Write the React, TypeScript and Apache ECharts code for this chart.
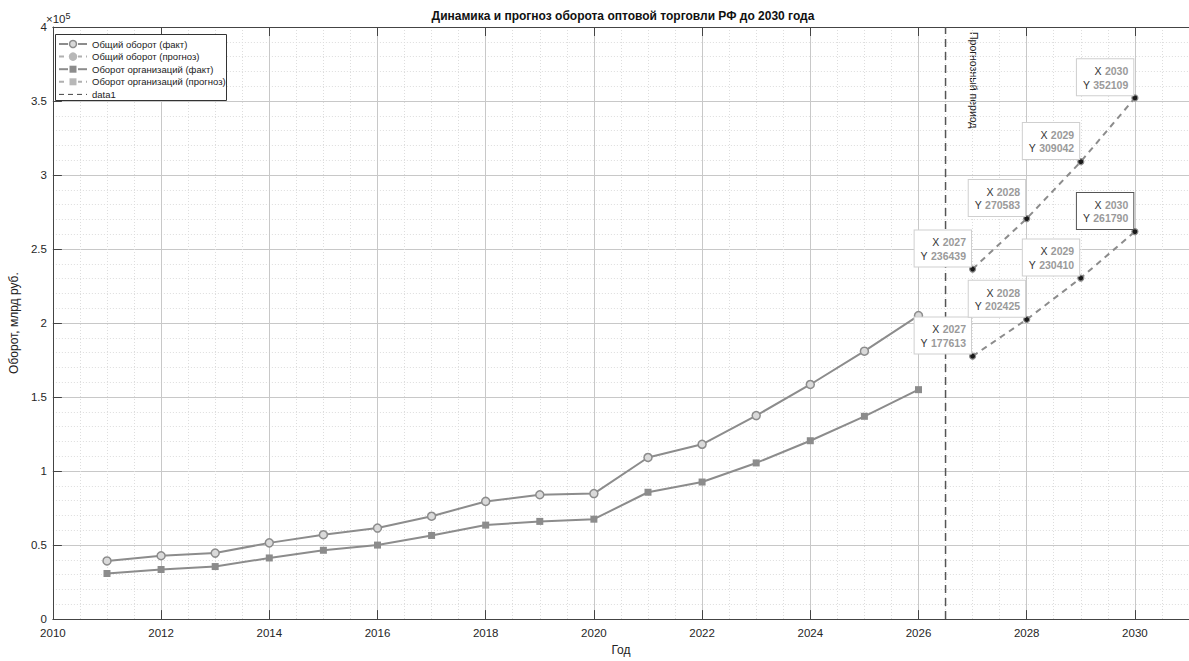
import React, { useEffect, useRef } from "react";
import * as echarts from "echarts";

const factYears = [2011, 2012, 2013, 2014, 2015, 2016, 2017, 2018, 2019, 2020, 2021, 2022, 2023, 2024, 2025, 2026];
const totalFact = [39300, 42800, 44600, 51500, 57000, 61500, 69500, 79500, 84000, 84800, 109200, 118100, 137500, 158500, 181000, 205000];
const orgFact = [30800, 33500, 35500, 41300, 46500, 50000, 56500, 63500, 66000, 67500, 85700, 92600, 105500, 120500, 137000, 155000];

const forecastYears = [2027, 2028, 2029, 2030];
const totalForecast = [236439, 270583, 309042, 352109];
const orgForecast = [177613, 202425, 230410, 261790];

const boundaryYear = 2026.5;
const boundaryLabel = "Прогнозный период";
const legendNames = [
  "Общий оборот (факт)",
  "Общий оборот (прогноз)",
  "Оборот организаций (факт)",
  "Оборот организаций (прогноз)",
  "data1",
];
const titleText = "Динамика и прогноз оборота оптовой торговли РФ до 2030 года";
const xName = "Год";
const yName = "Оборот, млрд руб.";

const FONT = "'Liberation Sans', Arial, sans-serif";
const GRAY = "#8c8c8c";

export default function App() {
  const ref = useRef<HTMLDivElement>(null);
  useEffect(() => {
    if (!ref.current) return;
    const chart = echarts.init(ref.current, undefined, { renderer: "svg" });

    const tipLabel = (highlight: boolean) => ({
      show: true,
      position: [2, 1],
      align: "right",
      verticalAlign: "bottom",
      backgroundColor: "#ffffff",
      borderColor: highlight ? "#555555" : "#cfcfcf",
      borderWidth: 1,
      padding: [5, 5, 4, 6],
      fontFamily: FONT,
      formatter: (p: any) => `{k|X} {v|${p.value[0]}}\n{k|Y} {v|${p.value[1]}}`,
      rich: {
        k: { color: "#333333", fontSize: 10.5, fontFamily: FONT, lineHeight: 13.5 },
        v: { color: "#9a9a9a", fontSize: 10.5, fontWeight: "bold", fontFamily: FONT, lineHeight: 13.5 },
      },
    });

    const fcData = (years: number[], vals: number[], hl: number) =>
      years.map((y, i) => ({ value: [y, vals[i]], label: tipLabel(i === hl) }));

    // legend drawn as graphic
    const lx0 = 59, lx1 = 87, lmx = 73, ltx = 92;
    const rowY = [44, 56.6, 69.2, 81.8, 94.4];
    const legendEls: any[] = [
      { type: "rect", shape: { x: 55.5, y: 34.5, width: 171, height: 66 }, style: { fill: "#fff", stroke: "#333", lineWidth: 1 }, z: 100 },
    ];
    const addRow = (i: number, dashed: boolean, marker: string | null, color: string, lw: number) => {
      const y = rowY[i];
      legendEls.push({
        type: "line",
        shape: { x1: lx0, y1: y, x2: lx1, y2: y },
        style: { stroke: color, lineWidth: lw, lineDash: dashed ? [5, 4] : null },
        z: 101,
      });
      if (marker === "circle") {
        legendEls.push({ type: "rect", shape: { x: lmx - 5, y: y - 5, width: 10, height: 10 }, style: { fill: "#fff" }, z: 101 });
        legendEls.push({ type: "circle", shape: { cx: lmx, cy: y, r: 3.5 }, style: { fill: dashed ? "#b8b8b8" : "#d9d9d9", stroke: dashed ? "#b8b8b8" : GRAY, lineWidth: 1.5 }, z: 102 });
      } else if (marker === "square") {
        legendEls.push({ type: "rect", shape: { x: lmx - 5, y: y - 5, width: 10, height: 10 }, style: { fill: "#fff" }, z: 101 });
        legendEls.push({ type: "rect", shape: { x: lmx - 3.5, y: y - 3.5, width: 7, height: 7 }, style: { fill: dashed ? "#b8b8b8" : GRAY }, z: 102 });
      }
      legendEls.push({
        type: "text",
        x: ltx,
        y,
        style: { text: legendNames[i], fill: "#222", fontSize: 9.5, fontFamily: FONT, verticalAlign: "middle", align: "left" },
        z: 102,
      });
    };
    addRow(0, false, "circle", GRAY, 2);
    addRow(1, true, "circle", "#b0b0b0", 2);
    addRow(2, false, "square", GRAY, 2);
    addRow(3, true, "square", "#b0b0b0", 2);
    addRow(4, true, null, "#444", 1);

    const option: any = {
      animation: false,
      backgroundColor: "#ffffff",
      textStyle: { fontFamily: FONT },
      title: {
        text: titleText,
        left: 618,
        textAlign: "center",
        top: 5,
        textStyle: { fontSize: 12, fontWeight: "bold", color: "#111", fontFamily: FONT },
      },
      grid: { left: 47.7, top: 27, width: 1150.6, height: 600.7, containLabel: false },
      xAxis: [
        {
          type: "value",
          min: 2010,
          max: 2031,
          interval: 2,
          name: xName,
          nameLocation: "middle",
          nameGap: 22,
          nameTextStyle: { fontSize: 12, color: "#222", fontFamily: FONT },
          axisLine: { show: true, lineStyle: { color: "#444", width: 1 } },
          axisTick: { show: true, inside: true, length: 9, lineStyle: { color: "#444" } },
          axisLabel: {
            formatter: (v: number) => String(v),
            fontSize: 11.5,
            color: "#262626",
            margin: 8,
            showMaxLabel: false,
            fontFamily: FONT,
          },
          splitLine: { show: true, lineStyle: { color: "#c8c8c8", width: 1 } },
          minorTick: { show: false, splitNumber: 4 },
          minorSplitLine: { show: true, lineStyle: { color: "#dddddd", type: [1, 2], width: 1 } },
        },
        {
          type: "value",
          position: "top",
          min: 2010,
          max: 2031,
          interval: 2,
          axisLine: { show: true, lineStyle: { color: "#444", width: 1 } },
          axisTick: { show: true, inside: true, length: 9, lineStyle: { color: "#444" } },
          axisLabel: { show: false },
          splitLine: { show: false },
        },
      ],
      yAxis: {
        type: "value",
        min: 0,
        max: 400000,
        interval: 50000,
        name: yName,
        nameLocation: "middle",
        nameGap: 29,
        nameRotate: 90,
        nameTextStyle: { fontSize: 12, color: "#222", fontFamily: FONT },
        axisLine: { show: true, lineStyle: { color: "#444", width: 1 } },
        axisTick: { show: true, inside: true, length: 9, lineStyle: { color: "#444" } },
        axisLabel: {
          formatter: (v: number) => String(v / 100000),
          fontSize: 11.5,
          color: "#262626",
          margin: 6,
          fontFamily: FONT,
        },
        splitLine: { show: true, lineStyle: { color: "#c8c8c8", width: 1 } },
        minorTick: { show: false, splitNumber: 5 },
        minorSplitLine: { show: true, lineStyle: { color: "#dddddd", type: [1, 2], width: 1 } },
      },
      series: [
        {
          name: legendNames[0],
          type: "line",
          data: factYears.map((y, i) => [y, totalFact[i]]),
          symbol: "circle",
          symbolSize: 8,
          lineStyle: { color: GRAY, width: 2 },
          itemStyle: { color: "#dadada", borderColor: GRAY, borderWidth: 1.5 },
          z: 3,
        },
        {
          name: legendNames[2],
          type: "line",
          data: factYears.map((y, i) => [y, orgFact[i]]),
          symbol: "rect",
          symbolSize: 7,
          lineStyle: { color: GRAY, width: 2 },
          itemStyle: { color: GRAY },
          z: 3,
        },
        {
          name: legendNames[1],
          type: "line",
          data: fcData(forecastYears, totalForecast, -1),
          symbol: "circle",
          symbolSize: 6,
          lineStyle: { color: GRAY, width: 2, type: [6, 5] },
          itemStyle: { color: "#1a1a1a", borderColor: "#8c8c8c", borderWidth: 1.2 },
          z: 4,
        },
        {
          name: legendNames[3],
          type: "line",
          data: fcData(forecastYears, orgForecast, 3),
          symbol: "circle",
          symbolSize: 6,
          lineStyle: { color: GRAY, width: 2, type: [6, 5] },
          itemStyle: { color: "#1a1a1a", borderColor: "#8c8c8c", borderWidth: 1.2 },
          z: 4,
        },
        {
          name: legendNames[4],
          type: "line",
          data: [
            [boundaryYear, 0],
            [boundaryYear, 400000],
          ],
          symbol: "none",
          lineStyle: { color: "#555", width: 1.5, type: [8, 5] },
          z: 2,
        },
      ],
      graphic: [
        {
          type: "text",
          x: 46,
          y: 19,
          style: {
            text: "×10{s|5}",
            rich: { s: { fontSize: 9, verticalAlign: "top", padding: [0, 0, 7, 0], fill: "#262626" } },
            fill: "#262626",
            fontSize: 11.5,
            fontFamily: FONT,
            verticalAlign: "middle",
          },
        },
        ...legendEls,
      ],
    };
    chart.setOption(option);

    const p = chart.convertToPixel({ xAxisIndex: 0, yAxisIndex: 0 }, [boundaryYear, 400000]) as number[];
    chart.setOption({
      graphic: [
        ...option.graphic,
        {
          type: "text",
          x: p[0] + 23,
          y: p[1] + 5,
          rotation: -Math.PI / 2,
          style: {
            text: boundaryLabel,
            fill: "#222",
            fontSize: 10.5,
            fontFamily: FONT,
            align: "left",
            verticalAlign: "bottom",
          },
        },
      ],
    });

    return () => chart.dispose();
  }, []);
  return <div ref={ref} style={{ position: "fixed", left: 0, top: 0, width: 1189, height: 661 }} />;
}
